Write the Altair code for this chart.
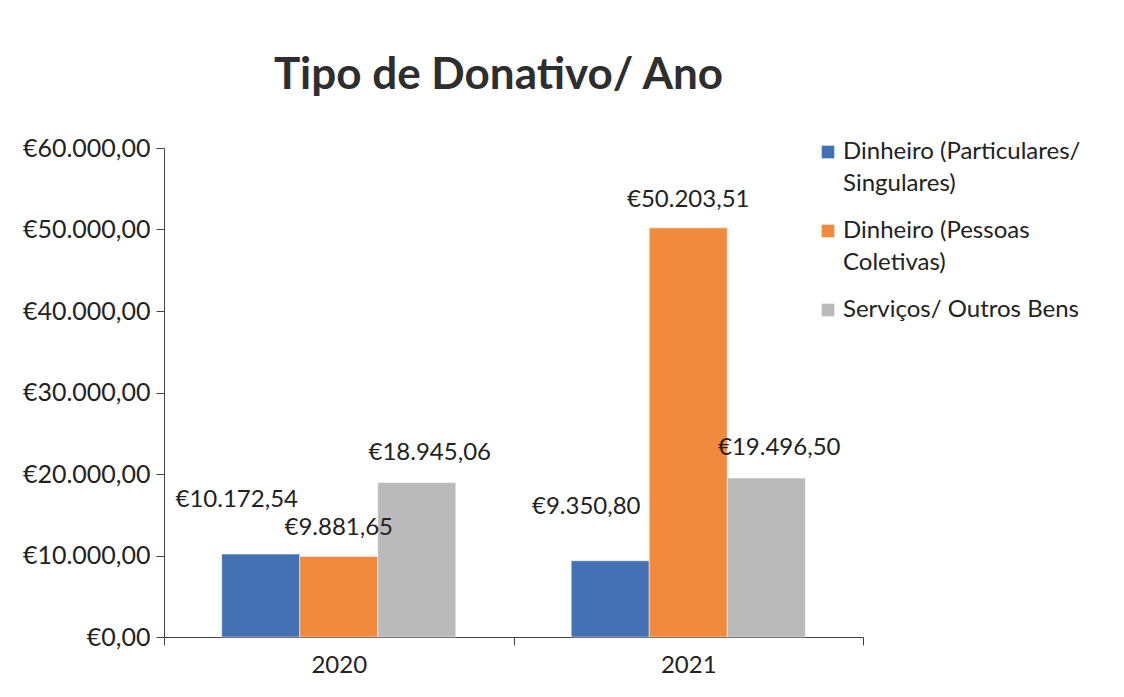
import altair as alt
import pandas as pd

years = ["2020", "2021"]
series = ["Dinheiro (Particulares/ Singulares)", "Dinheiro (Pessoas Coletivas)", "Serviços/ Outros Bens"]
particulares = [10172.54, 9350.80]
coletivas = [9881.65, 50203.51]
servicos = [18945.06, 19496.50]
colors = ["#4470b4", "#f28a3e", "#bababa"]

rows = []
for i, y in enumerate(years):
    for s, vals in zip(series, [particulares, coletivas, servicos]):
        rows.append({"Ano": y, "Tipo": s, "Valor": vals[i]})
df = pd.DataFrame(rows)

FONT = "Lato"

x = alt.X("Ano:N", title=None, sort=years,
          scale=alt.Scale(paddingInner=0, paddingOuter=0),
          axis=alt.Axis(labelAngle=0, labelFontSize=24, labelFont=FONT, labelColor="#222",
                        tickBand="extent", tickSize=8, tickColor="#444", domainColor="#444",
                        labelPadding=8))
xo = alt.XOffset("Tipo:N", sort=series, scale=alt.Scale(paddingOuter=0.74, paddingInner=0))
y = alt.Y("Valor:Q", title=None,
          scale=alt.Scale(domain=[0, 60000]),
          axis=alt.Axis(values=[0, 10000, 20000, 30000, 40000, 50000, 60000], format="$,.2f",
                        grid=False, labelFontSize=25, labelFont=FONT, labelColor="#222",
                        tickSize=8, tickColor="#444", domainColor="#444", labelPadding=6))

color = alt.Color("Tipo:N", sort=series,
                  scale=alt.Scale(domain=series, range=colors),
                  legend=alt.Legend(title=None, orient="none", legendX=652, legendY=-8,
                                    labelFont=FONT, labelFontSize=24, labelColor="#222",
                                    symbolType="square", symbolSize=160, symbolStrokeWidth=0,
                                    rowPadding=23, labelLimit=400, labelOffset=3,
                                    labelBaseline="middle",
                                    labelExpr="datum.label == 'Dinheiro (Particulares/ Singulares)' ? ['Dinheiro (Particulares/', 'Singulares)'] : datum.label == 'Dinheiro (Pessoas Coletivas)' ? ['Dinheiro (Pessoas', 'Coletivas)'] : datum.label"))

base = alt.Chart(df)
bars = base.mark_bar(stroke="white", strokeWidth=0.5).encode(x=x, xOffset=xo, y=y, color=color)

def labels(name, dx, dy):
    return base.transform_filter(alt.datum.Tipo == name).mark_text(
        font=FONT, fontSize=24, color="#222", baseline="middle", dx=dx, dy=dy
    ).encode(x=x, xOffset=xo, y=y, text=alt.Text("Valor:Q", format="$,.2f"))

chart = alt.layer(
    bars,
    labels(series[0], -24, -54),
    labels(series[1], 0, -28),
    labels(series[2], 13, -30),
).properties(
    width=699, height=489,
    title=alt.TitleParams("Tipo de Donativo/ Ano", font=FONT, fontSize=44, fontWeight="bold",
                          color="#2e2e2e", anchor="middle", dx=-15, offset=38),
    padding={"left": 14, "top": 46, "right": 5, "bottom": 5},
).configure(
    background="white",
    style={"guide-label": {"lineHeight": 32}},
).configure_view(strokeWidth=0, stroke=None)

chart.save("out.html", embed_options={
    "renderer": "svg", "actions": False,
    "formatLocale": {"decimal": ",", "thousands": ".", "grouping": [3], "currency": ["€", ""]},
})
